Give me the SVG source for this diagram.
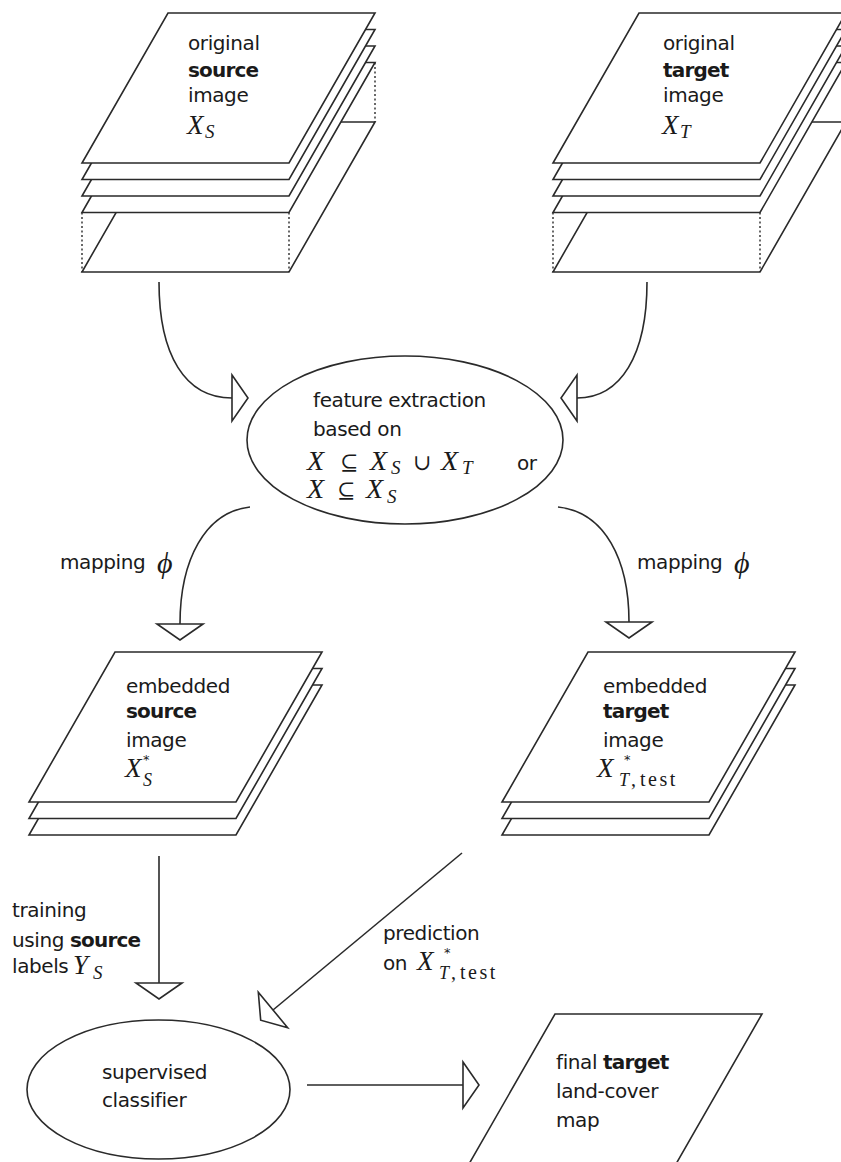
<svg xmlns="http://www.w3.org/2000/svg" xmlns:xlink="http://www.w3.org/1999/xlink" width="841" height="1162" viewBox="0 0 841 1162">
<style>
  .ln{fill:none;stroke:#2a2a2a;stroke-width:1.6}
  .sh{fill:#fff;stroke:#2a2a2a;stroke-width:1.6;stroke-linejoin:miter}
  .dot{fill:none;stroke:#2a2a2a;stroke-width:1.4;stroke-dasharray:2 2.5}
  .t{font-family:"DejaVu Sans",sans-serif;font-size:20px;fill:#1a1a1a;letter-spacing:-0.4px;font-style:normal}
  .b{font-weight:bold;letter-spacing:-0.8px}
  .m{font-family:"Liberation Serif","DejaVu Serif",serif;font-style:italic;font-size:27px;fill:#1a1a1a}
  .ml{font-size:28px}
  .ph{font-size:30px}
  .ms{font-family:"Liberation Serif","DejaVu Serif",serif;font-style:italic;font-size:19px}
  .ms2{font-size:18px}
  .sr{font-family:"Liberation Serif","DejaVu Serif",serif;font-style:normal;font-size:20px;letter-spacing:2.5px}
  .st{font-family:"DejaVu Sans",sans-serif;font-style:normal;font-size:13px}
  .op{font-family:"DejaVu Serif",serif;font-style:normal;font-size:22px}
</style>
<defs>
  <polygon id="sheet" points="86,0 293,0 207,150 0,150"/>
  <marker id="ah" markerUnits="userSpaceOnUse" markerWidth="24" markerHeight="52" viewBox="-2 -26 24 52" refX="0" refY="0" orient="auto" overflow="visible">
    <path d="M0,-23 L16,0 L0,23 Z" fill="#fff" stroke="#2a2a2a" stroke-width="1.6"/>
  </marker>
</defs>

<g id="source-original">
  <use xlink:href="#sheet" x="82" y="122" class="sh"/>
  <use xlink:href="#sheet" x="82" y="62.5" class="sh"/>
  <use xlink:href="#sheet" x="82" y="46" class="sh"/>
  <use xlink:href="#sheet" x="82" y="29.5" class="sh"/>
  <use xlink:href="#sheet" x="82" y="13" class="sh"/>
  <line x1="82" y1="212.5" x2="82" y2="272" class="dot"/>
  <line x1="289" y1="212.5" x2="289" y2="272" class="dot"/>
  <line x1="375" y1="62.5" x2="375" y2="122" class="dot"/>
  <text class="t" x="188" y="50">original</text>
  <text class="t b" x="188" y="77">source</text>
  <text class="t" x="188" y="102">image</text>
  <text class="m" x="187" y="134">X<tspan class="ms" x="205" y="138">S</tspan></text>
</g>

<g id="target-original">
  <use xlink:href="#sheet" x="553" y="122" class="sh"/>
  <use xlink:href="#sheet" x="553" y="62.5" class="sh"/>
  <use xlink:href="#sheet" x="553" y="46" class="sh"/>
  <use xlink:href="#sheet" x="553" y="29.5" class="sh"/>
  <use xlink:href="#sheet" x="553" y="13" class="sh"/>
  <line x1="553" y1="212.5" x2="553" y2="272" class="dot"/>
  <line x1="760" y1="212.5" x2="760" y2="272" class="dot"/>
  <text class="t" x="663" y="50">original</text>
  <text class="t b" x="663" y="77">target</text>
  <text class="t" x="663" y="102">image</text>
  <text class="m" x="662" y="134">X<tspan class="ms" x="680" y="138">T</tspan></text>
</g>

<g id="feature-extraction">
  <ellipse cx="405" cy="440" rx="158" ry="84" class="ln" fill="#fff"/>
  <text class="t" x="313" y="407">feature extraction</text>
  <text class="t" x="313" y="436">based on</text>
  <text class="m ml"><tspan x="307" y="470">X</tspan><tspan class="op" x="340" y="470">⊆</tspan><tspan x="370" y="470">X</tspan><tspan class="ms" x="391" y="474">S</tspan><tspan class="op" x="413" y="470">∪</tspan><tspan x="441" y="470">X</tspan><tspan class="ms" x="462" y="474">T</tspan><tspan class="t" x="517" y="470">or</tspan><tspan x="307" y="498">X</tspan><tspan class="op" x="337" y="498">⊆</tspan><tspan x="366" y="498">X</tspan><tspan class="ms" x="387" y="503">S</tspan></text>
</g>

<g id="source-embedded">
  <use xlink:href="#sheet" x="29" y="685" class="sh"/>
  <use xlink:href="#sheet" x="29" y="668.5" class="sh"/>
  <use xlink:href="#sheet" x="29" y="652" class="sh"/>
  <text class="t" x="126" y="693">embedded</text>
  <text class="t b" x="126" y="718">source</text>
  <text class="t" x="126" y="747">image</text>
  <text class="m" x="125" y="777">X<tspan class="st" x="143" y="764">*</tspan><tspan class="ms ms2" x="143" y="786">S</tspan></text>
</g>

<g id="target-embedded">
  <use xlink:href="#sheet" x="502" y="685" class="sh"/>
  <use xlink:href="#sheet" x="502" y="668.5" class="sh"/>
  <use xlink:href="#sheet" x="502" y="652" class="sh"/>
  <text class="t" x="603" y="693">embedded</text>
  <text class="t b" x="603" y="718">target</text>
  <text class="t" x="603" y="747">image</text>
  <text class="m" x="597" y="777">X<tspan class="st" x="624" y="764">*</tspan><tspan class="ms ms2" x="619" y="786">T</tspan><tspan class="sr" x="631" y="786">,</tspan><tspan class="sr" x="640" y="786">test</tspan></text>
</g>

<g id="classifier">
  <ellipse cx="158.5" cy="1089.5" rx="131.5" ry="69.5" class="ln" fill="#fff"/>
  <text class="t" x="102" y="1079">supervised</text>
  <text class="t" x="102" y="1107">classifier</text>
</g>

<g id="final-map">
  <use xlink:href="#sheet" x="469" y="1014" class="sh"/>
  <text class="t" x="556" y="1069">final <tspan class="b">target</tspan></text>
  <text class="t" x="556" y="1098">land-cover</text>
  <text class="t" x="556" y="1127">map</text>
</g>

<g id="connectors">
  <path d="M159,282 C159,355 185,398 232,398" class="ln" marker-end="url(#ah)"/>
  <path d="M647,282 C647,355 621,398 577,398" class="ln" marker-end="url(#ah)"/>
  <path d="M250,507 C205,512 180,560 180,624" class="ln" marker-end="url(#ah)"/>
  <path d="M558,507 C605,512 629,560 629,622" class="ln" marker-end="url(#ah)"/>
  <path d="M159,856 L159,983" class="ln" marker-end="url(#ah)"/>
  <path d="M462,853 L273,1010" class="ln" marker-end="url(#ah)"/>
  <path d="M307,1085 L463,1085" class="ln" marker-end="url(#ah)"/>
  <text class="t" x="60" y="569">mapping<tspan class="m ph" x="157" y="573">ϕ</tspan></text>
  <text class="t" x="637" y="569">mapping<tspan class="m ph" x="734" y="573">ϕ</tspan></text>
  <text class="t" x="12" y="917">training</text>
  <text class="t" x="12" y="947">using <tspan class="b">source</tspan></text>
  <text class="t" x="12" y="973">labels<tspan class="m" x="73" y="974">Y</tspan><tspan class="ms" x="93" y="979">S</tspan></text>
  <text class="t" x="383" y="940">prediction</text>
  <text class="t" x="383" y="970">on<tspan class="m" x="417" y="970">X</tspan><tspan class="st" x="444" y="957">*</tspan><tspan class="ms ms2" x="439" y="979">T</tspan><tspan class="sr" x="451" y="979">,</tspan><tspan class="sr" x="460" y="979">test</tspan></text>
</g>
</svg>
